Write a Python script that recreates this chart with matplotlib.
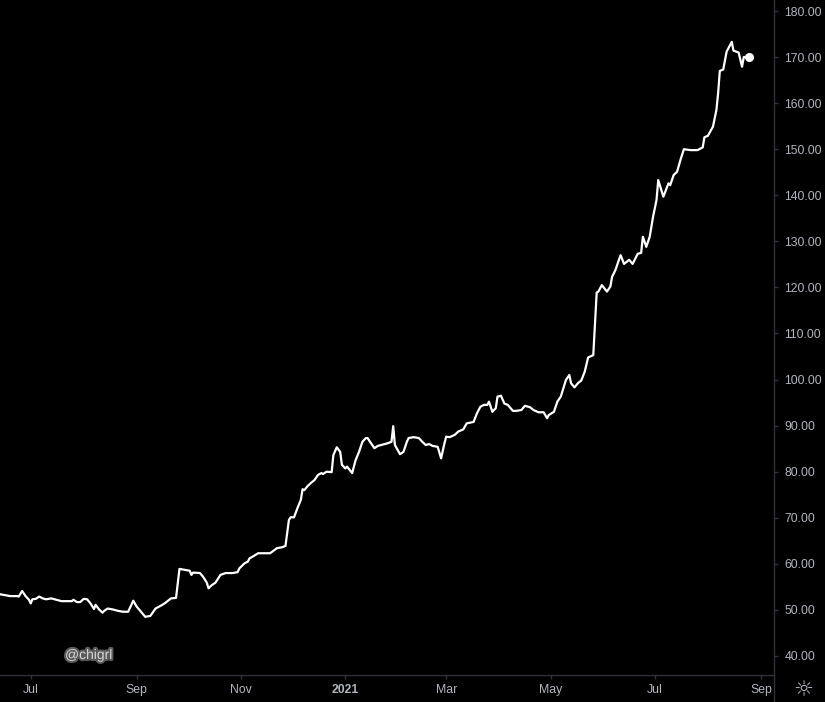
import pandas as pd
import matplotlib
matplotlib.use("Agg")
import matplotlib.pyplot as plt
import matplotlib.patheffects as pe
from matplotlib.lines import Line2D

plt.rcParams['font.family'] = ['Liberation Sans', 'DejaVu Sans']

# DATA (day offsets from start date, closing values)
start = pd.Timestamp("2020-07-01")
days = [-18, -15, -12, -8, -7, -5, -3, -1, 0, 1,
        3, 5, 7, 9, 12, 15, 18, 21, 24, 25,
        27, 29, 31, 33, 35, 37, 38, 40, 42, 43,
        45, 48, 51, 54, 57, 60, 62, 65, 67, 70,
        73, 75, 77, 79, 80, 82, 85, 87, 90, 93,
        94, 95, 99, 101, 103, 104, 106, 108, 111, 114,
        118, 121, 122, 125, 127, 128, 130, 133, 136, 140,
        144, 147, 149, 151, 152, 154, 156, 158, 159, 160,
        162, 164, 166, 168, 170, 171, 173, 176, 177, 179,
        181, 182, 184, 185, 188, 190, 192, 194, 196, 197,
        201, 203, 206, 209, 211, 212, 213, 214, 216, 218,
        220, 221, 224, 227, 229, 231, 233, 235, 238, 240,
        242, 243, 245, 248, 250, 253, 255, 259, 261, 263,
        265, 267, 268, 270, 272, 273, 275, 277, 279, 282,
        284, 287, 289, 292, 294, 297, 300, 302, 303, 306,
        308, 310, 313, 315, 316, 318, 320, 322, 324, 326,
        329, 331, 332, 334, 337, 339, 340, 342, 344, 345,
        347, 350, 352, 355, 357, 358, 360, 362, 364, 366,
        367, 370, 373, 374, 376, 378, 380, 382, 386, 390,
        393, 394, 396, 399, 401, 402, 403, 405, 407, 410,
        411, 414, 416, 417, 420]
values = [53.4, 53.2, 53.0, 53.0, 52.9, 54.1, 53.0, 52.2, 51.4, 52.3,
          52.4, 52.9, 52.5, 52.3, 52.5, 52.2, 51.9, 51.9, 51.9, 52.2,
          51.7, 51.7, 52.4, 52.3, 51.4, 50.2, 51.1, 50.1, 49.4, 49.8,
          50.3, 50.1, 49.8, 49.6, 49.6, 52.0, 50.7, 49.4, 48.5, 48.7,
          50.3, 50.7, 51.1, 51.6, 51.9, 52.5, 52.6, 58.9, 58.7, 58.5,
          57.6, 58.1, 58.0, 57.1, 55.9, 54.7, 55.4, 55.9, 57.6, 58.0,
          58.0, 58.2, 59.0, 60.1, 60.5, 61.2, 61.6, 62.3, 62.3, 62.3,
          63.4, 63.6, 63.9, 69.5, 70.1, 70.1, 72.1, 73.9, 76.2, 76.0,
          76.9, 77.6, 78.2, 79.3, 79.7, 79.5, 80.0, 79.9, 83.6, 85.3,
          84.3, 81.5, 80.7, 81.1, 79.7, 82.5, 84.3, 86.5, 87.3, 87.3,
          85.1, 85.6, 85.9, 86.2, 86.5, 89.9, 85.8, 85.1, 83.8, 84.3,
          86.5, 87.3, 87.5, 87.3, 86.5, 85.8, 86.0, 85.6, 85.4, 82.9,
          86.2, 87.6, 87.5, 88.0, 88.7, 89.2, 90.5, 90.8, 92.7, 94.1,
          94.5, 94.5, 95.2, 93.0, 93.8, 96.3, 96.5, 94.8, 94.5, 93.2,
          93.2, 93.4, 94.3, 94.0, 93.4, 92.9, 92.9, 91.6, 92.3, 93.0,
          95.2, 96.3, 99.9, 101.0, 99.2, 98.3, 99.2, 99.8, 101.7, 104.8,
          105.3, 118.9, 119.1, 120.5, 119.1, 120.2, 122.3, 123.8, 126.0, 127.0,
          125.1, 126.0, 125.1, 127.3, 127.5, 131.0, 128.8, 131.0, 135.4, 139.0,
          143.3, 139.7, 142.6, 142.2, 144.4, 145.1, 147.7, 150.0, 149.8, 149.8,
          150.4, 152.6, 152.9, 154.9, 158.5, 162.1, 167.0, 167.3, 171.2, 173.3,
          171.4, 171.0, 167.9, 170.0, 170.1]

yTicks = [40, 50, 60, 70, 80, 90, 100, 110, 120, 130, 140, 150, 160, 170, 180]
xTickDates = ["2020-07-01", "2020-09-01", "2020-11-01", "2021-01-01",
              "2021-03-01", "2021-05-01", "2021-07-01", "2021-09-01"]
xTickLabels = ["Jul", "Sep", "Nov", "2021", "Mar", "May", "Jul", "Sep"]

dates = start + pd.to_timedelta(days, unit="D")

# FIGURE
W, H = 825, 702
textColor = "#b2b5be"
lineGray = "#2f323b"

fig = plt.figure(figsize=(W / 100, H / 100), dpi=100, facecolor="black")
ax = fig.add_axes([0, (H - 675) / H, 773.5 / W, 675 / H])
ax.set_facecolor("black")

ax.plot(dates, values, color="white", lw=1.6, solid_joinstyle="round")
ax.plot(dates[-1:], values[-1:], "o", color="white", ms=5.5)

ax.set_xlim(start + pd.Timedelta(days=-17.95), start + pd.Timedelta(days=434.4))
ax.set_ylim(35.87, 182.39)

# Y AXIS ON THE RIGHT
ax.yaxis.tick_right()
ax.set_yticks(yTicks)
ax.set_yticklabels([f"{v:.2f}" for v in yTicks])
ax.tick_params(axis="y", color=lineGray, labelcolor=textColor, length=3,
               width=1, pad=5, labelsize=8.8)

# X AXIS
ax.set_xticks(pd.to_datetime(xTickDates))
ax.set_xticklabels(xTickLabels)
ax.tick_params(axis="x", color=lineGray, labelcolor=textColor, length=3,
               width=1, pad=3.5, labelsize=8.8)
ax.get_xticklabels()[3].set_fontweight("bold")

for side in ["top", "left", "right"]:
    ax.spines[side].set_visible(False)
ax.spines["bottom"].set_color(lineGray)
ax.spines["bottom"].set_linewidth(1)

# separator between chart and price scale
fig.add_artist(Line2D([773.5 / W, 773.5 / W], [0, 1], color=lineGray, lw=1,
                      transform=fig.transFigure))

# watermark and settings icon
fig.text(65 / W, 1 - 655 / H, "@chigrl", ha="left", va="center", fontsize=10,
         color="#d8d8d8",
         path_effects=[pe.withStroke(linewidth=3, foreground="#5a5a5a")])
fig.text(803 / W, 1 - 690 / H, "\u263c", ha="center", va="center", fontsize=16,
         color=textColor, family=["DejaVu Sans"])

fig.savefig("out.png", dpi=100, facecolor="black")
